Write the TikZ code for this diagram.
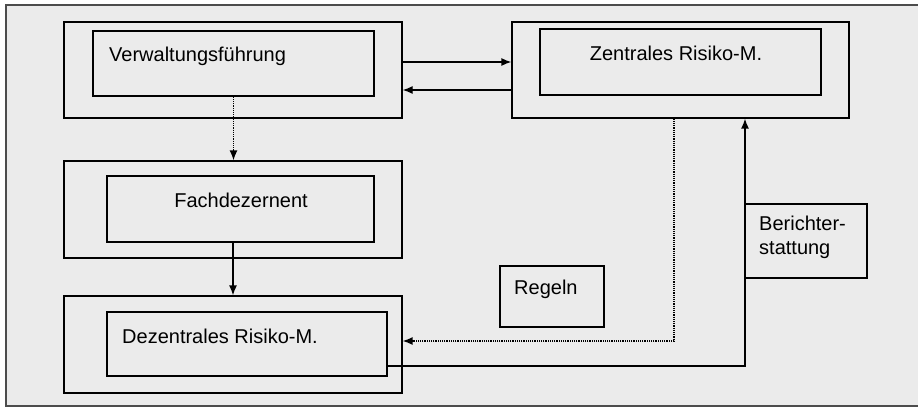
\documentclass[tikz,border=0pt]{standalone}
\usepackage{fontspec}
\setmainfont{Liberation Sans}
\usetikzlibrary{arrows.meta,calc}
\begin{document}
\begin{tikzpicture}[x=1pt,y=-1pt,
  box/.style={draw=black,line width=1.3pt,rectangle,inner sep=0pt},
  txt/.style={inner sep=0pt,font=\fontsize{20}{24}\selectfont},
  conn/.style={line width=1.3pt,-{Latex[length=10pt,width=8pt]}},
  dconn/.style={line width=1.4pt,dash pattern=on 1.2pt off 1pt,-{Latex[length=10pt,width=8pt]}}
]
\useasboundingbox (0,0) rectangle (918,409);
\fill[black!8] (6,6) rectangle (918,406);
\draw[line width=1.2pt,black!70] (918,5) -- (6,5) -- (6,406) -- (918,406);

% Verwaltungsfuehrung
\node[box,minimum width=338pt,minimum height=96pt] (Vout) at (233,70) {};
\node[box,minimum width=281pt,minimum height=65pt] (Vin) at (233.5,63.5) {};
\node[txt,anchor=west] (Vt) at (109,56) {Verwaltungsführung};

% Fachdezernent
\node[box,minimum width=338pt,minimum height=97pt] (Fout) at (233,209.5) {};
\node[box,minimum width=267pt,minimum height=66pt] (Fin) at (240.5,209) {};
\node[txt] (Ft) at (241,200) {Fachdezernent};

% Dezentrales Risiko-M.
\node[box,minimum width=338pt,minimum height=97pt] (Dout) at (233,344.5) {};
\node[box,minimum width=280pt,minimum height=64pt] (Din) at (247,344) {};
\node[txt,anchor=west] (Dt) at (122,336) {Dezentrales Risiko-M.};

% Zentrales Risiko-M.
\node[box,minimum width=337pt,minimum height=96pt] (Zout) at (680.5,70) {};
\node[box,minimum width=281pt,minimum height=66pt] (Zin) at (680.5,62) {};
\node[txt] (Zt) at (676,53) {Zentrales Risiko-M.};

% Berichterstattung
\node[box,minimum width=122pt,minimum height=74pt] (B) at (806,241) {};
\node[txt,anchor=north west,align=left] (Bt) at (759,216) {Berichter-\\stattung};

% Regeln
\node[box,minimum width=104pt,minimum height=61pt] (R) at (552,296.5) {};
\node[txt,anchor=west] (Rt) at (514,289) {Regeln};

% connectors
\draw[conn] ([yshift=8pt]Vout.east) -- ([yshift=8pt]Zout.west);
\draw[conn] ([yshift=-20pt]Zout.west) -- ([yshift=-20pt]Vout.east);
\draw[dconn] (Vin.south) -- (Vin.south |- Fout.north);
\draw[conn] (Fout.center |- Fin.south) -- (Fout.center |- Dout.north);

\coordinate (c1) at (674,341);
\draw[dconn] (Zout.south -| c1) -- (c1) -- (c1 -| Dout.east);
\coordinate (c2) at (745,366);
\draw[conn] (Din.east |- c2) -- (c2) -- (c2 |- Zout.south);
\end{tikzpicture}
\end{document}
